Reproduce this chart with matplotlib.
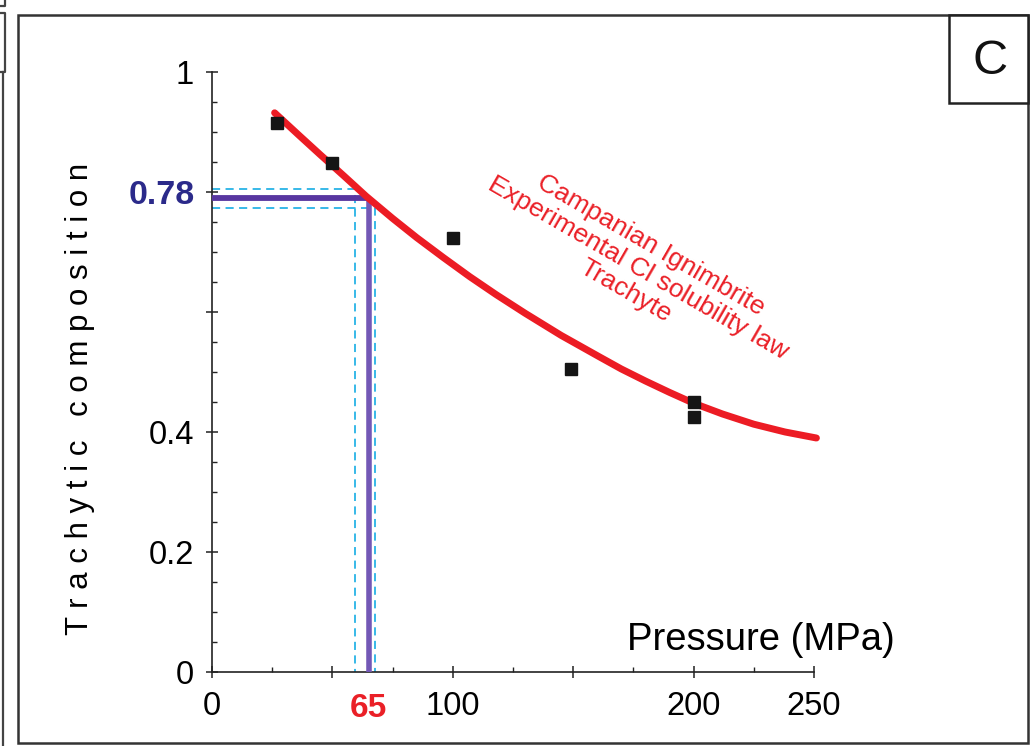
import matplotlib
matplotlib.use("Agg")
import matplotlib.pyplot as plt
from matplotlib.patches import Rectangle
from matplotlib.lines import Line2D

plt.rcParams['font.family'] = ['Liberation Sans', 'DejaVu Sans']

# ---- data ----
# experimental points (Pressure MPa, trachytic composition)
pts_p = [27, 50, 100, 149, 200, 200]
pts_c = [0.915, 0.848, 0.723, 0.505, 0.450, 0.425]

# solubility-law curve
curve_p = [26, 36, 45, 55, 64, 75, 85, 96, 107, 118, 130, 145, 161, 170, 180, 190,
           200, 212, 225, 238, 251]
curve_c = [0.932, 0.895, 0.862, 0.826, 0.793, 0.756, 0.724, 0.691, 0.659, 0.629,
           0.598, 0.561, 0.525, 0.505, 0.485, 0.466, 0.448, 0.430, 0.413, 0.400, 0.390]

# estimate and its bounds
est_p, est_c = 65, 0.79
upper_p, upper_c = 59.5, 0.805
lower_p, lower_c = 67.8, 0.773

xticks = [0, 50, 100, 150, 200, 250]
xticklabels = ['0', '', '100', '', '200', '250']
yticks = [0, 0.2, 0.4, 0.6, 0.8, 1.0]
yticklabels = ['0', '0.2', '0.4', '', '', '1']

W, H = 1031, 746
fig = plt.figure(figsize=(W / 100, H / 100), dpi=100)
fig.patch.set_facecolor('white')

ax = fig.add_axes([212 / W, (H - 672) / H, 602 / W, 600 / H])
ax.set_xlim(0, 250)
ax.set_ylim(0, 1)
ax.patch.set_alpha(0)
for s in ['top', 'right']:
    ax.spines[s].set_visible(False)
for s in ['left', 'bottom']:
    ax.spines[s].set_linewidth(1.2)
    ax.spines[s].set_color('#222222')

ax.set_xticks(xticks)
ax.set_xticklabels(xticklabels)
ax.set_xticks([25, 75, 125, 175, 225], minor=True)
ax.set_yticks(yticks)
ax.set_yticklabels(yticklabels)
ax.set_yticks([0.05 * i for i in range(1, 20) if i % 4 != 0], minor=True)
ax.tick_params(which='major', direction='inout', length=8, width=1.1,
               color='#222222', labelsize=23.5, labelcolor='black')
ax.tick_params(which='minor', direction='in', length=3.5, width=1.0, color='#222222')
ax.tick_params(axis='x', which='major', pad=10)
ax.tick_params(axis='y', which='major', pad=9)

# bounds (cyan dashed)
ax.plot([0, upper_p, upper_p], [upper_c, upper_c, 0], color='#27b3e6', lw=1.3,
        ls=(0, (4.5, 3)), zorder=2, clip_on=False)
ax.plot([0, lower_p, lower_p], [lower_c, lower_c, 0], color='#27b3e6', lw=1.3,
        ls=(0, (4.5, 3)), zorder=2, clip_on=False)
# estimate (purple)
ax.plot([0, est_p], [est_c, est_c], color='#5836a0', lw=4.2, zorder=3,
        solid_capstyle='butt')
ax.plot([est_p, est_p], [est_c, 0], color='#7358b6', lw=4.0, zorder=3,
        solid_capstyle='butt')

# curve
ax.plot(curve_p, curve_c, color='#ec1c24', lw=5.0, zorder=4,
        solid_capstyle='round', solid_joinstyle='round', clip_on=False)
# points
ax.plot(pts_p, pts_c, ls='none', marker='s', ms=8.5, color='#151515', zorder=5)

# special labels
ax.annotate('0.78', xy=(0, 0.795), xytext=(-12.5, 0), textcoords='offset points',
            ha='right', va='center', fontsize=24.5, fontweight='bold', color='#2b2a8a',
            annotation_clip=False)
ax.annotate('65', xy=(est_p, 0), xytext=(0, -15), textcoords='offset points',
            ha='center', va='top', fontsize=24, fontweight='bold', color='#ea2027',
            annotation_clip=False)

ax.text(177, 0.673, 'Campanian Ignimbrite\nExperimental Cl solubility law\nTrachyte',
        rotation=-30, rotation_mode='anchor', ha='center', va='center',
        multialignment='center', fontsize=19, color='#ea2027', linespacing=1.12)

ax.text(228, 0.037, 'Pressure (MPa)', ha='center', va='baseline', fontsize=27.5,
        color='black')

fig.text(80 / W, 1 - 399 / H, 'T r a c h y t i c \u2009 c o m p o s i t i o n',
         rotation=90, ha='center', va='center', fontsize=22.5, color='black')

# frames
def px_rect(x0, y0, x1, y1, lw=2.0, color='#333333'):
    fig.patches.append(Rectangle((x0 / W, 1 - y1 / H), (x1 - x0) / W, (y1 - y0) / H,
                                 transform=fig.transFigure, fill=False, lw=lw,
                                 edgecolor=color))

px_rect(18, 15, 1028, 743, lw=1.8)
fig.patches.append(Rectangle((949 / W, 1 - 103 / H), (1028 - 949) / W, (103 - 15) / H,
                             transform=fig.transFigure, facecolor='white', lw=1.8,
                             edgecolor='#222222'))
fig.text(990 / W, 1 - 62 / H, 'C', ha='center', va='center', fontsize=35, color='#111111')

# neighbouring panel edges at left
def px_line(xs, ys, lw=1.6, color='#444444'):
    fig.lines.append(Line2D([x / W for x in xs], [1 - y / H for y in ys],
                            transform=fig.transFigure, lw=lw, color=color))

px_line([3, 3], [72, 746])
px_line([0, 5, 5, 0], [13, 13, 72, 72])
px_line([0, 5, 5], [6, 6, 0])

fig.savefig('out.png', dpi=100, facecolor='white')
